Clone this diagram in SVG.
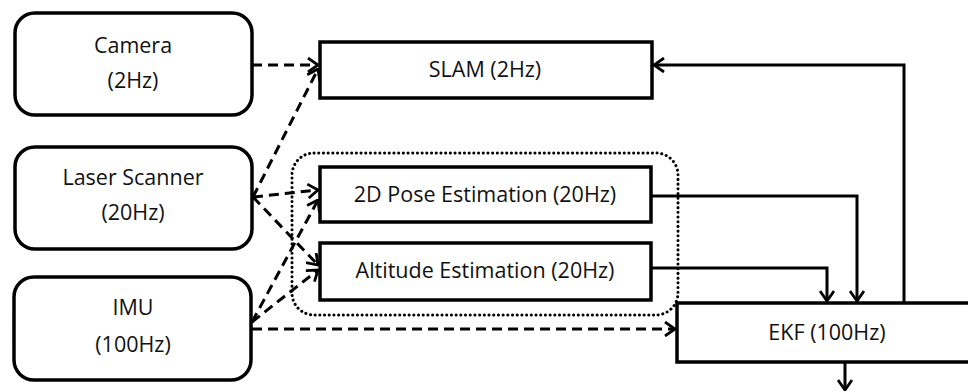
<svg xmlns="http://www.w3.org/2000/svg" width="968" height="392" viewBox="0 0 968 392">
<style>
.box{fill:#fff;stroke:#000;stroke-width:3.5}
.t{font-family:"Open Sans","Liberation Sans",sans-serif;font-size:21.5px;fill:#111;text-anchor:middle}
.d{fill:none;stroke:#000;stroke-width:3;stroke-dasharray:10 6}
.s{fill:none;stroke:#000;stroke-width:3}
.grp{fill:none;stroke:#000;stroke-width:3;stroke-dasharray:0.1 4.6;stroke-linecap:round}
</style>
<defs>
<marker id="ah" viewBox="0 0 12 16" refX="11" refY="8" markerWidth="12" markerHeight="16" markerUnits="userSpaceOnUse" orient="auto">
<path d="M1 1 L11 8 L1 15" fill="none" stroke="#000" stroke-width="2.8"/>
</marker>
</defs>
<rect x="292" y="153" width="386" height="162" rx="22" class="grp"/>
<g id="camera"><rect x="15" y="13" width="237" height="102" rx="20" class="box"/><text x="133" y="53" class="t">Camera</text><text x="133" y="88" class="t">(2Hz)</text></g>
<g id="laser"><rect x="15" y="147" width="237" height="102" rx="20" class="box"/><text x="133" y="185" class="t">Laser Scanner</text><text x="133" y="220" class="t">(20Hz)</text></g>
<g id="imu"><rect x="14" y="277" width="237" height="103" rx="20" class="box"/><text x="133" y="315" class="t">IMU</text><text x="133" y="352" class="t">(100Hz)</text></g>
<g id="slam"><rect x="320" y="42" width="332" height="56" class="box"/><text x="485" y="77" class="t">SLAM (2Hz)</text></g>
<g id="pose"><rect x="320" y="167" width="331" height="55" class="box"/><text x="485" y="202" class="t">2D Pose Estimation (20Hz)</text></g>
<g id="alt"><rect x="320" y="243" width="331" height="57" class="box"/><text x="485" y="278" class="t">Altitude Estimation (20Hz)</text></g>
<g id="ekf"><rect x="677" y="303" width="300" height="59" class="box"/><text x="827" y="340" class="t">EKF (100Hz)</text></g>
<g id="connectors">
<path class="d" d="M252 65 L318 65" marker-end="url(#ah)"/>
<path class="d" d="M253 197 L318 69" marker-end="url(#ah)"/>
<path class="d" d="M253 197 L318 190" marker-end="url(#ah)"/>
<path class="d" d="M253 197 L318 265" marker-end="url(#ah)"/>
<path class="d" d="M252 322 L318 200" marker-end="url(#ah)"/>
<path class="d" d="M252 322 L318 270" marker-end="url(#ah)"/>
<path class="d" d="M252 329 L675 329" marker-end="url(#ah)"/>
<path class="s" d="M651 196 L857 196 L857 301" marker-end="url(#ah)"/>
<path class="s" d="M651 268 L827 268 L827 301" marker-end="url(#ah)"/>
<path class="s" d="M904 303 L904 65 L654 65" marker-end="url(#ah)"/>
<path class="s" d="M845 362 L845 390" marker-end="url(#ah)"/>
</g>
</svg>
